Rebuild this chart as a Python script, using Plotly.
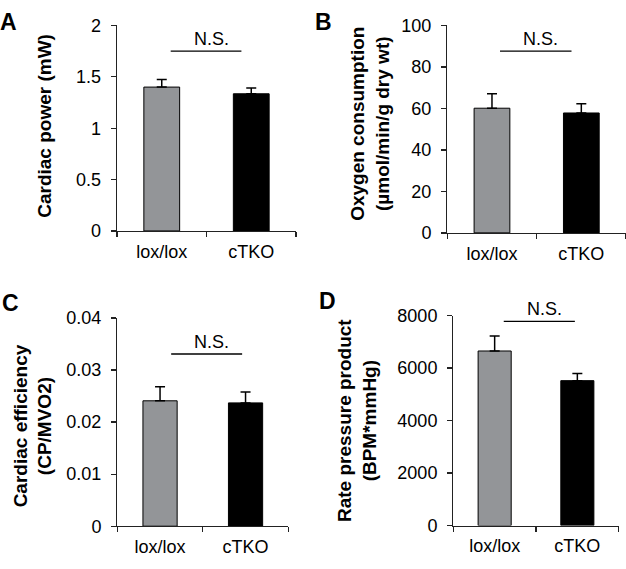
import plotly.graph_objects as go

W, H = 626, 569

categories = ["lox/lox", "cTKO"]

power = [1.40, 1.335]
power_err = [0.075, 0.055]

oxygen = [60.1, 57.8]
oxygen_err = [7.0, 4.5]

efficiency = [0.0241, 0.0237]
efficiency_err = [0.0027, 0.0021]

rpp = [6650, 5520]
rpp_err = [575, 270]

power_ticks = [0, 0.5, 1, 1.5, 2]
oxygen_ticks = [0, 20, 40, 60, 80, 100]
efficiency_ticks = [0, 0.01, 0.02, 0.03, 0.04]
rpp_ticks = [0, 2000, 4000, 6000, 8000]

ns_level = [1.75, 87.6, 0.0331, 7780]

bar_colors = ["#939598", "#000000"]
FONT = "Arial, Liberation Sans, Helvetica, sans-serif"

# panel layout in pixels: x0, x1 (plot), ytop, ybottom
panels = [
    dict(vals=power, err=power_err, ticks=power_ticks, ns=ns_level[0],
         px=(117, 296), py=(16, 229), letter="A", lpos=(8, 12),
         title="<b>Cardiac power (mW)</b>", tpos=(45, 120),
         nsx=(0.10, 0.89)),
    dict(vals=oxygen, err=oxygen_err, ticks=oxygen_ticks, ns=ns_level[1],
         px=(447.3, 626), py=(16, 231), letter="B", lpos=(324, 12),
         title="<b>Oxygen consumption<br>(µmol/min/g dry wt)</b>", tpos=(370, 118),
         nsx=(0.09, 0.89)),
    dict(vals=efficiency, err=efficiency_err, ticks=efficiency_ticks, ns=ns_level[2],
         px=(117.3, 288.3), py=(319.3, 535), letter="C", lpos=(10, 304),
         title="<b>Cardiac efficiency<br>(CP/MVO2)</b>", tpos=(32.5, 431),
         nsx=(0.13, 0.96)),
    dict(vals=rpp, err=rpp_err, ticks=rpp_ticks, ns=ns_level[3],
         px=(453.3, 618.7), py=(316.7, 534.3), letter="D", lpos=(327, 302),
         title="<b>Rate pressure product<br>(BPM*mmHg)</b>", tpos=(357, 426),
         nsx=(0.11, 0.97)),
]

fig = go.Figure()
annotations = []
shapes = []

for i, p in enumerate(panels):
    n = i + 1
    xa = "x" if n == 1 else f"x{n}"
    ya = "y" if n == 1 else f"y{n}"
    fig.add_trace(go.Bar(
        x=categories, y=p["vals"], xaxis=xa, yaxis=ya,
        width=0.4,
        marker=dict(color=bar_colors, line=dict(color="black", width=1)),
        error_y=dict(type="data", symmetric=False, array=p["err"],
                     arrayminus=[0, 0], color="black", thickness=1.5, width=5),
        showlegend=False, hoverinfo="skip",
    ))
    xdom = [p["px"][0] / W, min(p["px"][1] / W, 1.0)]
    ydom = [1 - p["py"][1] / H, 1 - p["py"][0] / H]
    xkey = "xaxis" if n == 1 else f"xaxis{n}"
    ykey = "yaxis" if n == 1 else f"yaxis{n}"
    fig.update_layout(**{
        xkey: dict(domain=xdom, anchor=ya, type="category", range=[-0.5, 1.5],
                   tickson="boundaries", ticks="outside", ticklen=5, tickwidth=1.3,
                   tickcolor="#222", showline=True, linecolor="#222", linewidth=1.3,
                   showgrid=False, zeroline=False,
                   tickfont=dict(family=FONT, size=18, color="black"),
                   ticklabelstandoff=4, fixedrange=True),
        ykey: dict(domain=ydom, anchor=xa, range=[p["ticks"][0], p["ticks"][-1]],
                   tickvals=p["ticks"], ticks="outside", ticklen=5, tickwidth=1.3,
                   tickcolor="#222", showline=True, linecolor="#222", linewidth=1.3,
                   showgrid=False, zeroline=False,
                   tickfont=dict(family=FONT, size=18, color="black"),
                   ticklabelstandoff=6, fixedrange=True),
    })
    # N.S. bracket line
    shapes.append(dict(type="line", xref=xa, yref=ya,
                       x0=p["nsx"][0], x1=p["nsx"][1], y0=p["ns"], y1=p["ns"],
                       line=dict(color="black", width=1.3)))
    annotations.append(dict(xref=xa, yref=ya, x=(p["nsx"][0] + p["nsx"][1]) / 2,
                            y=p["ns"], text="N.S.", showarrow=False,
                            xanchor="center", yanchor="bottom", xshift=5, yshift=0,
                            font=dict(family=FONT, size=18, color="black")))
    # axis title
    annotations.append(dict(xref="paper", yref="paper",
                            x=p["tpos"][0] / W, y=1 - p["tpos"][1] / H,
                            text=p["title"], textangle=-90, showarrow=False,
                            xanchor="center", yanchor="middle",
                            font=dict(family=FONT, size=19, color="black")))
    # panel letter
    annotations.append(dict(xref="paper", yref="paper",
                            x=p["lpos"][0] / W, y=1 - p["lpos"][1] / H,
                            text=f"<b>{p['letter']}</b>", showarrow=False,
                            xanchor="center", yanchor="middle",
                            font=dict(family=FONT, size=23, color="black")))

fig.update_layout(
    width=W, height=H,
    margin=dict(l=0, r=0, t=0, b=0),
    paper_bgcolor="white", plot_bgcolor="white",
    annotations=annotations, shapes=shapes,
    font=dict(family=FONT),
    hovermode=False,
)

fig.write_html("out.html",
               config={"displayModeBar": False, "staticPlot": True},
               post_script="document.body.style.margin='0';document.body.style.overflow='hidden';")
